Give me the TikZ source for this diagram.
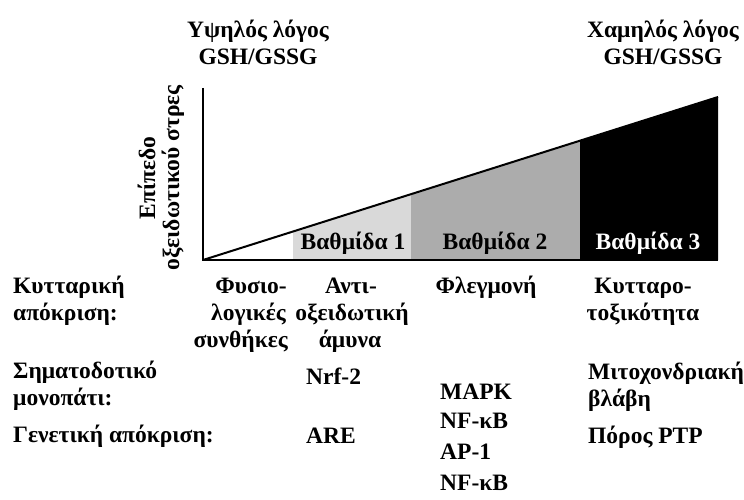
\documentclass[tikz,border=0pt]{standalone}
\usepackage{fontspec}
\setmainfont{Liberation Serif}[BoldFont={Liberation Serif Bold}]
\begin{document}
\begin{tikzpicture}[x=1pt,y=-1pt,
  txt/.style={font=\fontsize{23.5}{28}\selectfont\bfseries, inner sep=0pt, align=center},
  ltxt/.style={txt, align=left},
  axis/.style={line width=2.4pt},
  diag/.style={line width=2pt}]
\useasboundingbox (0,0) rectangle (744,500);
% coordinates
\coordinate (O) at (203,260);
\coordinate (Ytop) at (203,88);
\coordinate (Xend) at (718,260);
\coordinate (Tend) at (718,97);
\coordinate (b1) at (293,260); \coordinate (b1t) at (293,231.5);
\coordinate (b2) at (411,260); \coordinate (b2t) at (411,194.2);
\coordinate (b3) at (580,260); \coordinate (b3t) at (580,140.7);
% fills
\fill[gray!30] (b1) -- (b1t) -- (b2t) -- (b2) -- cycle;
\fill[gray!65] (b2) -- (b2t) -- (b3t) -- (b3) -- cycle;
\fill[black] (b3) -- (b3t) -- (Tend) -- (Xend) -- cycle;
% axes
\draw[diag] (O) -- (Tend);
\draw[axis] (Ytop) -- (O) -- (Xend);
% stage labels
\node[txt, anchor=base] (s1) at (353,249) {Βαθμίδα 1};
\node[txt, anchor=base] (s2) at (495,249) {Βαθμίδα 2};
\node[txt, anchor=base, text=white] (s3) at (648,249) {Βαθμίδα 3};
% titles
\node[txt, anchor=base] (hi1) at (258,38) {Υψηλός λόγος};
\node[txt, anchor=base] (hi2) at (258,65) {GSH/GSSG};
\node[txt, anchor=base] (lo1) at (663,38) {Χαμηλός λόγος};
\node[txt, anchor=base] (lo2) at (663,65) {GSH/GSSG};
% y label
\node[txt, rotate=90, font=\fontsize{23.5}{24}\selectfont\bfseries] (ylab) at (161,178) {Επίπεδο\\οξειδωτικού στρες};
% rows
\node[ltxt, anchor=base west] (cr1) at (13,293) {Κυτταρική};
\node[ltxt, anchor=base west] (cr2) at (13,320) {απόκριση:};
\node[txt, anchor=base east] (c1a) at (287,293) {Φυσιο-};
\node[txt, anchor=base east] (c1b) at (286,320) {λογικές};
\node[txt, anchor=base east] (c1c) at (288,347) {συνθήκες};
\node[txt, anchor=base] (c2a) at (351,293) {Αντι-};
\node[txt, anchor=base] (c2b) at (352,320) {οξειδωτική};
\node[txt, anchor=base] (c2c) at (350,347) {άμυνα};
\node[txt, anchor=base] (c3) at (486,293) {Φλεγμονή};
\node[txt, anchor=base] (c4a) at (643,293) {Κυτταρο-};
\node[txt, anchor=base] (c4b) at (643,320) {τοξικότητα};
\node[ltxt, anchor=base west] (sp1) at (13,378) {Σηματοδοτικό};
\node[ltxt, anchor=base west] (sp2) at (13,405) {μονοπάτι:};
\node[ltxt, anchor=base west] (n1) at (306,384) {Nrf-2};
\node[ltxt, anchor=base west] (n2a) at (440,399) {MAPK};
\node[ltxt, anchor=base west] (n2b) at (440,428) {NF-κB};
\node[ltxt, anchor=base west] (n3a) at (588,379) {Μιτοχονδριακή};
\node[ltxt, anchor=base west] (n3b) at (588,406) {βλάβη};
\node[ltxt, anchor=base west] (gr) at (13,442) {Γενετική απόκριση:};
\node[ltxt, anchor=base west] (g1) at (306,443) {ARE};
\node[ltxt, anchor=base west] (g2a) at (440,459) {AP-1};
\node[ltxt, anchor=base west] (g2b) at (440,490) {NF-κB};
\node[ltxt, anchor=base west] (g3) at (588,443) {Πόρος PTP};
\end{tikzpicture}
\end{document}
